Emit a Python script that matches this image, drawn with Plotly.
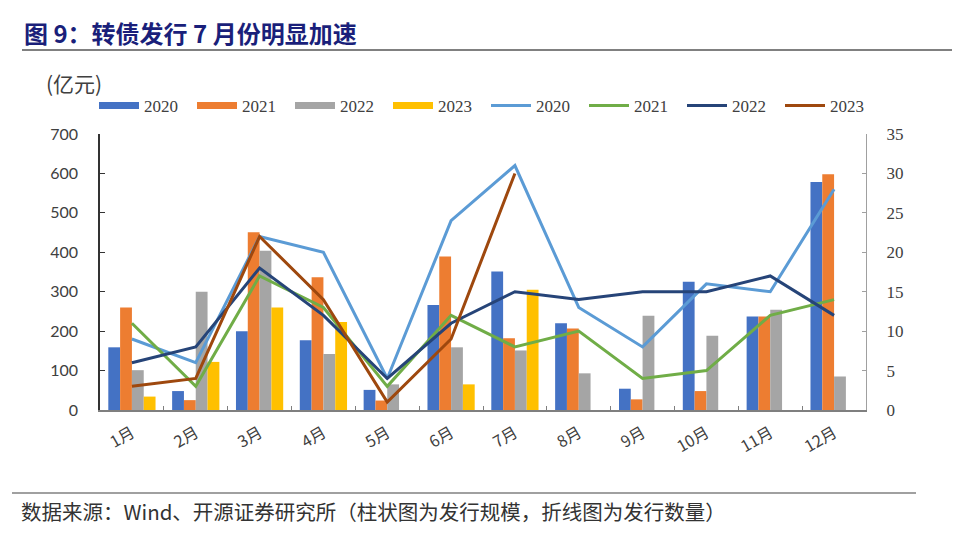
import plotly.graph_objects as go

months = ["1月", "2月", "3月", "4月", "5月", "6月", "7月", "8月", "9月", "10月", "11月", "12月"]

# Issuance size (亿元), bars
size_2020 = [159, 48, 200, 177, 51, 266, 351, 220, 54, 325, 237, 578]
size_2021 = [260, 25, 451, 337, 24, 389, 182, 207, 27, 48, 237, 598]
size_2022 = [101, 300, 404, 142, 65, 159, 151, 93, 239, 188, 254, 85]
size_2023 = [34, 122, 260, 223, None, 65, 305]

# Issuance count, lines
count_2020 = [9, 6, 22, 20, 4, 24, 31, 13, 8, 16, 15, 28]
count_2021 = [11, 3, 17, 13, 3, 12, 8, 10, 4, 5, 12, 14]
count_2022 = [6, 8, 18, 12, 4, 11, 15, 14, 15, 15, 17, 12]
count_2023 = [3, 4, 22, 14, 1, 9, 30]

bar_colors = ["#4472C4", "#ED7D31", "#A5A5A5", "#FFC000"]
line_colors = ["#5B9BD5", "#70AD47", "#264478", "#9E480E"]
years = ["2020", "2021", "2022", "2023"]

# page has an 8px body margin: figure sized to fill the window exactly
OFF = 8
W, H = 960 - 2 * OFF, 545 - 2 * OFF
# plot area in page coordinates
PL, PR, PT, PB = 100, 866, 134, 410
L, R, T, B = PL - OFF, PR - OFF, PT - OFF, PB - OFF


def px(xp):  # page x -> paper
    return (xp - PL) / (PR - PL)


def py(yp):  # page y -> paper
    return (PB - yp) / (PB - PT)


fig = go.Figure()

bar_sets = [size_2020, size_2021, size_2022, size_2023]
for yr, vals, c in zip(years, bar_sets, bar_colors):
    fig.add_trace(go.Bar(x=months[:len(vals)], y=vals, name=yr, marker=dict(color=c, line=dict(width=0)),
                         showlegend=False, yaxis="y"))

# legend proxies for bars (wide rectangles)
for yr, c in zip(years, bar_colors):
    fig.add_trace(go.Scatter(x=[None], y=[None], mode="lines", name=yr,
                             line=dict(color=c, width=7), showlegend=True))

line_sets = [count_2020, count_2021, count_2022, count_2023]
for yr, vals, c in zip(years, line_sets, line_colors):
    fig.add_trace(go.Scatter(x=months[:len(vals)], y=vals, name=yr, mode="lines",
                             line=dict(color=c, width=3), yaxis="y2"))

serif = "Liberation Serif, Times New Roman, serif"
sans = "Lato, Carlito, Liberation Sans, sans-serif"
cjk = "Noto Sans CJK SC, sans-serif"

fig.update_layout(
    width=W, height=H,
    margin=dict(l=L, r=W - R, t=T, b=H - B, autoexpand=False),
    paper_bgcolor="white", plot_bgcolor="white",
    barmode="group", bargap=0.26, bargroupgap=0,
    font=dict(family=serif, size=15, color="#404040"),
    legend=dict(orientation="h", x=px(94), xanchor="left", y=py(106), yanchor="middle",
                font=dict(family=serif, size=17, color="#404040"),
                entrywidth=43, entrywidthmode="pixels", itemwidth=40,
                bgcolor="rgba(0,0,0,0)", traceorder="normal", tracegroupgap=0),
    xaxis=dict(type="category", categoryorder="array", categoryarray=months,
               showline=True, linecolor="#7f7f7f", linewidth=1.5,
               ticks="inside", ticklen=4, tickcolor="#7f7f7f", tickson="boundaries",
               tickangle=-30, ticklabelstandoff=6,
               tickfont=dict(family=cjk, size=16, color="#404040"),
               showgrid=False, zeroline=False, range=[-0.5, 11.5]),
    yaxis=dict(range=[0, 700], dtick=100, showline=True, linecolor="#333333", linewidth=1.5,
               ticks="inside", ticklen=5, tickcolor="#333333", showgrid=False, zeroline=False,
               ticklabelstandoff=17,
               tickfont=dict(family=sans, size=16, color="#404040")),
    yaxis2=dict(range=[0, 35], dtick=5, overlaying="y", side="right", showline=True,
                linecolor="#a0a0a0", linewidth=1.2, ticks="inside", ticklen=4, tickcolor="#a0a0a0",
                showgrid=False, zeroline=False, ticklabelstandoff=16,
                tickfont=dict(family=serif, size=17, color="#404040")),
    annotations=[
        dict(text="<b>图 9：转债发行 7 月份明显加速</b>", xref="paper", yref="paper",
             x=px(22), y=py(33), xanchor="left", yanchor="middle", showarrow=False,
             font=dict(family=cjk, size=24, color="#1a1f7a")),
        dict(text="(亿元)", xref="paper", yref="paper", x=px(44), y=py(83),
             xanchor="left", yanchor="middle", showarrow=False,
             font=dict(family=cjk, size=21, color="#404040")),
        dict(text="数据来源：Wind、开源证券研究所（柱状图为发行规模，折线图为发行数量）",
             xref="paper", yref="paper", x=px(19), y=py(511), xanchor="left", yanchor="middle",
             showarrow=False, font=dict(family=cjk, size=20.5, color="#333333")),
    ],
    shapes=[
        dict(type="line", xref="paper", yref="paper", x0=px(22), x1=px(960), y0=py(50), y1=py(50),
             line=dict(color="#808080", width=2)),
        dict(type="line", xref="paper", yref="paper", x0=px(12), x1=px(916), y0=py(493), y1=py(493),
             line=dict(color="#808080", width=1.5)),
    ],
)

fig.write_html("out.html")
